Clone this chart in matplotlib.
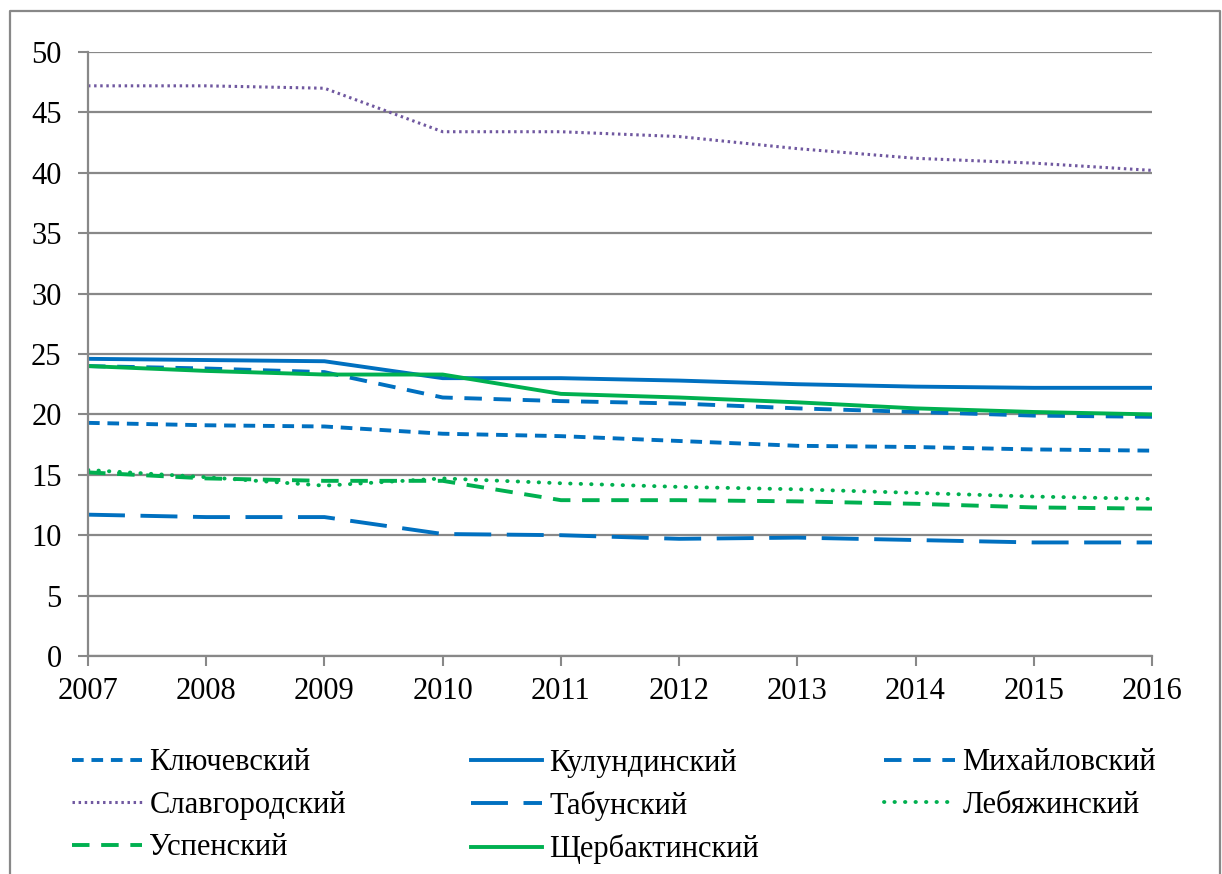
import numpy as np
import matplotlib.pyplot as plt
from matplotlib.lines import Line2D

plt.rcParams['font.family'] = 'serif'
plt.rcParams['font.serif'] = ['Liberation Serif', 'Times New Roman', 'DejaVu Serif']

years = [2007, 2008, 2009, 2010, 2011, 2012, 2013, 2014, 2015, 2016]

klyuchevsky = [19.3, 19.1, 19.0, 18.4, 18.2, 17.8, 17.4, 17.3, 17.1, 17.0]
kulundinsky = [24.6, 24.5, 24.4, 23.0, 23.0, 22.8, 22.5, 22.3, 22.2, 22.2]
mikhailovsky = [24.0, 23.8, 23.5, 21.4, 21.1, 20.9, 20.5, 20.2, 19.9, 19.8]
slavgorodsky = [47.2, 47.2, 47.0, 43.4, 43.4, 43.0, 42.0, 41.2, 40.8, 40.2]
tabunsky = [11.7, 11.5, 11.5, 10.1, 10.0, 9.7, 9.8, 9.6, 9.4, 9.4]
lebyazhinsky = [15.4, 14.8, 14.1, 14.7, 14.3, 14.0, 13.8, 13.5, 13.2, 13.0]
uspensky = [15.2, 14.7, 14.5, 14.5, 12.9, 12.9, 12.8, 12.6, 12.3, 12.2]
shcherbaktinsky = [24.0, 23.6, 23.3, 23.3, 21.7, 21.4, 21.0, 20.5, 20.2, 20.0]

blue = '#0070C0'
green = '#00B050'
purple = '#7058A0'

fig = plt.figure(figsize=(12.22, 8.74), dpi=100)
ax = fig.add_axes([88/1222, (874-656)/874, (1152-88)/1222, (656-52)/874])

lw = 2.8
h1, = ax.plot(years, klyuchevsky, color=blue, lw=lw, linestyle=(0, (3.0, 2.0)), label='Ключевский')
h2, = ax.plot(years, kulundinsky, color=blue, lw=lw, label='Кулундинский')
h3, = ax.plot(years, mikhailovsky, color=blue, lw=lw, linestyle=(0, (4.5, 3.0)), label='Михайловский')
h4, = ax.plot(years, slavgorodsky, color=purple, lw=2.2, linestyle=(0, (0.8, 1.2)), label='Славгородский')
h5, = ax.plot(years, tabunsky, color=blue, lw=lw, linestyle=(0, (9.5, 4.0)), label='Табунский')
h6, = ax.plot(years, lebyazhinsky, color=green, lw=lw, linestyle=(0, (0.1, 2.6)), label='Лебяжинский',
              dash_capstyle='round')
h7, = ax.plot(years, uspensky, color=green, lw=lw, linestyle=(0, (4.5, 3.0)), label='Успенский')
h8, = ax.plot(years, shcherbaktinsky, color=green, lw=lw, label='Щербактинский')

ax.set_xlim(2007, 2016)
ax.set_ylim(0, 50)
ax.set_xticks(years)
ax.set_yticks(np.arange(0, 51, 5))
ax.tick_params(labelsize=22, colors='#888888', labelcolor='black', length=7, width=1.5)
ax.tick_params(axis='y', pad=12)
ax.tick_params(axis='x', pad=8)
ax.yaxis.grid(True, color='#888888', lw=1.6)
ax.set_axisbelow(True)
for side in ['top', 'right']:
    ax.spines[side].set_visible(False)
for side in ['left', 'bottom']:
    ax.spines[side].set_color('#888888')
    ax.spines[side].set_linewidth(1.6)

handles = [h1, h4, h7, h2, h5, h8, h3, h6]
fig.legend(handles=handles, labels=[h.get_label() for h in handles],
           loc='upper left', bbox_to_anchor=(44/1222, 1 - 721/874), ncol=3,
           frameon=False, fontsize=22, handlelength=2.3, handletextpad=0.25,
           columnspacing=4.1, labelspacing=0.44)

# outer chart border (left, top, right)
bx = [10/1222, 10/1222, 1220/1222, 1220/1222]
by = [0, 1 - 11/874, 1 - 11/874, 0]
fig.add_artist(Line2D(bx, by, transform=fig.transFigure, color='#888888', lw=1.6))

fig.savefig('out.png', dpi=100)
